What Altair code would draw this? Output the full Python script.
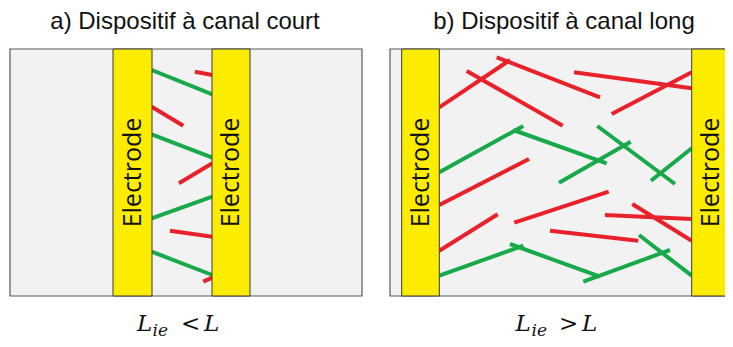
import altair as alt
import pandas as pd

# ---- data (picture pixel coordinates) ----
box_x1 = [10, 390]
box_x2 = [362, 731]
box_y1 = [49, 49]
box_y2 = [296, 296]

elec_x1 = [113, 212, 401.7, 691.7]
elec_x2 = [152, 250, 439.3, 730]
elec_y1 = [49, 49, 49, 49]
elec_y2 = [296, 296, 296, 296]
elec_label = ["Electrode"] * 4

wire_x1 = [151.7, 195, 151.7, 151.7, 179, 151.7, 170, 151.7, 203.3,
           439.3, 496.7, 466.7, 574, 611.7, 439.3, 513.3, 559, 597.3, 651,
           439.3, 439.3, 514.3, 605, 632.3, 550, 439.3, 510, 583.3, 639]
wire_y1 = [70, 71.7, 106.7, 134.3, 183.3, 218.3, 230.7, 251.7, 281.7,
           107.3, 57.3, 71, 72.3, 114, 172.3, 130, 182.7, 126, 180.7,
           205, 250.7, 222.7, 215, 204, 230.7, 275.7, 244, 281.7, 235]
wire_x2 = [212.3, 212.3, 183.3, 212.3, 212.3, 212.3, 212.3, 212.3, 212.3,
           510, 600, 562.7, 691.7, 691.7, 523.3, 606.7, 630.7, 675, 691.7,
           529, 497.7, 608.7, 691.7, 691.7, 638.3, 523.3, 600, 670, 691.7]
wire_y2 = [94.3, 75, 125.7, 157.7, 163.3, 196.7, 236.7, 275, 277.7,
           60, 97.3, 125.7, 88.3, 72.3, 126, 163.3, 141.7, 184, 148.3,
           159, 214.3, 191.7, 219, 240.7, 240.7, 245.7, 276.7, 250, 275.7]
wire_kind = ["green", "red", "red", "green", "red", "green", "red", "green", "red",
             "red", "red", "red", "red", "red", "green", "green", "green", "green", "green",
             "red", "red", "red", "red", "red", "red", "green", "green", "green", "green"]

title_text = ["a) Dispositif à canal court", "b) Dispositif à canal long"]
title_x = [185, 564]
title_y = [29]*2

lab_text = ["L", "<", "L", "L", ">", "L"]
lab_x = [137, 181, 204, 515.5, 559, 582]
lab_y = [331]*6
sub_text = ["ie", "ie"]
sub_x = [152.5, 531.5]
sub_y = [336, 336]

# ---- tables ----
boxes = pd.DataFrame(dict(x=box_x1, x2=box_x2, y=box_y1, y2=box_y2))
elecs = pd.DataFrame(dict(x=elec_x1, x2=elec_x2, y=elec_y1, y2=elec_y2, t=elec_label))
elecs["xc"] = (elecs.x + elecs.x2) / 2
elecs["yc"] = (elecs.y + elecs.y2) / 2
wires = pd.DataFrame(dict(x=wire_x1, y=wire_y1, x2=wire_x2, y2=wire_y2, k=wire_kind))
titles = pd.DataFrame(dict(x=title_x, y=title_y, t=title_text))
labs = pd.DataFrame(dict(x=lab_x, y=lab_y, t=lab_text))
subs = pd.DataFrame(dict(x=sub_x, y=sub_y, t=sub_text))

W, H = 717, 331
xs = alt.Scale(domain=[8, 8 + W])
ys = alt.Scale(domain=[8, 8 + H], reverse=True)

def X(f):
    return alt.X(f, type="quantitative", scale=xs, axis=None)

def Y(f):
    return alt.Y(f, type="quantitative", scale=ys, axis=None)

box_layer = alt.Chart(boxes).mark_rect(fill="#f2f2f2", stroke="#595959", strokeWidth=1.2).encode(
    x=X("x"), x2="x2", y=Y("y"), y2="y2")

wire_layer = alt.Chart(wires).mark_rule(strokeWidth=4, strokeCap="butt").encode(
    x=X("x"), x2="x2", y=Y("y"), y2="y2",
    color=alt.Color("k:N", scale=alt.Scale(domain=["red", "green"], range=["#e8212a", "#17a94a"]), legend=None))

elec_layer = alt.Chart(elecs).mark_rect(fill="#fbec00", stroke="#3a3a3a", strokeWidth=1).encode(
    x=X("x"), x2="x2", y=Y("y"), y2="y2")

elec_text = alt.Chart(elecs).mark_text(angle=270, font="Open Sans", fontSize=25, color="#111111",
                                       align="center", baseline="middle").encode(
    x=X("xc"), y=Y("yc"), text="t:N")

title_layer = alt.Chart(titles).mark_text(font="Liberation Sans", fontSize=24, color="#111111",
                                          align="center", baseline="alphabetic").encode(
    x=X("x"), y=Y("y"), text="t:N")

lab_layer = alt.Chart(labs).mark_text(font="DejaVu Serif", fontStyle="italic", fontSize=23, color="#111111",
                                      align="left", baseline="alphabetic").encode(
    x=X("x"), y=Y("y"), text="t:N")

sub_layer = alt.Chart(subs).mark_text(font="DejaVu Serif", fontStyle="italic", fontSize=17, color="#111111",
                                      align="left", baseline="alphabetic").encode(
    x=X("x"), y=Y("y"), text="t:N")

chart = alt.layer(box_layer, wire_layer, elec_layer, elec_text, title_layer, lab_layer, sub_layer).properties(
    width=W, height=H, padding=0, autosize="none", background="white"
).configure_view(stroke=None)

chart.save("out.html", embed_options={"renderer": "svg", "actions": False})
